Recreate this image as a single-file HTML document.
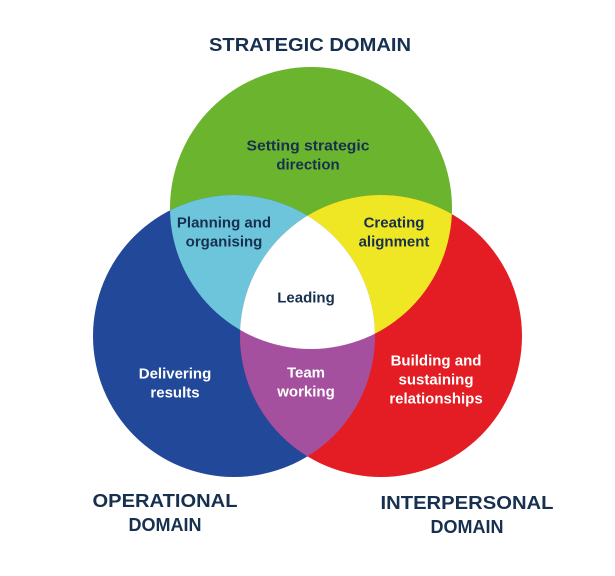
<!DOCTYPE html>
<html><head><meta charset="utf-8"><style>
html,body{margin:0;padding:0;background:#fff;}
svg{display:block;}
text{font-family:"Liberation Sans",sans-serif;text-anchor:middle;dominant-baseline:central;}
.t{font-weight:bold;font-size:18px;fill:#17304f;}
.l{font-size:15px;font-weight:bold;fill:#17304f;}
.w{font-size:15px;font-weight:bold;fill:#fff;}
</style></head><body>
<svg width="615" height="576" viewBox="0 0 615 576" xmlns="http://www.w3.org/2000/svg">
<defs>
<clipPath id="cg"><circle cx="311" cy="208" r="141"/></clipPath>
<clipPath id="cb"><circle cx="234" cy="336" r="141"/></clipPath>
</defs>
<circle cx="311" cy="208" r="141" fill="#6ab42e"/>
<circle cx="234" cy="336" r="141" fill="#22489a"/>
<circle cx="381" cy="336" r="141" fill="#e31d23"/>
<circle cx="234" cy="336" r="141" fill="#6cc5da" clip-path="url(#cg)"/>
<circle cx="381" cy="336" r="141" fill="#efe723" clip-path="url(#cg)"/>
<circle cx="381" cy="336" r="141" fill="#a4509e" clip-path="url(#cb)"/>
<g clip-path="url(#cg)"><circle cx="381" cy="336" r="141" fill="#fff" clip-path="url(#cb)"/></g>
<text class="t" x="310" y="45" textLength="202" lengthAdjust="spacingAndGlyphs">STRATEGIC DOMAIN</text>
<text class="t" x="165" y="501" textLength="145" lengthAdjust="spacingAndGlyphs">OPERATIONAL</text>
<text class="t" x="165" y="525" textLength="73" lengthAdjust="spacingAndGlyphs">DOMAIN</text>
<text class="t" x="467" y="503" textLength="173" lengthAdjust="spacingAndGlyphs">INTERPERSONAL</text>
<text class="t" x="467" y="527" textLength="73" lengthAdjust="spacingAndGlyphs">DOMAIN</text>
<text class="l" x="308" y="146" textLength="123" lengthAdjust="spacingAndGlyphs">Setting strategic</text>
<text class="l" x="308" y="165">direction</text>
<text class="l" x="224" y="223">Planning and</text>
<text class="l" x="224" y="242">organising</text>
<text class="l" x="394" y="223">Creating</text>
<text class="l" x="394" y="242">alignment</text>
<text class="l" x="306" y="298">Leading</text>
<text class="w" x="175" y="374">Delivering</text>
<text class="w" x="175" y="393">results</text>
<text class="w" x="306" y="373">Team</text>
<text class="w" x="306" y="392">working</text>
<text class="w" x="436" y="361">Building and</text>
<text class="w" x="436" y="380">sustaining</text>
<text class="w" x="436" y="399">relationships</text>
</svg>
</body></html>
